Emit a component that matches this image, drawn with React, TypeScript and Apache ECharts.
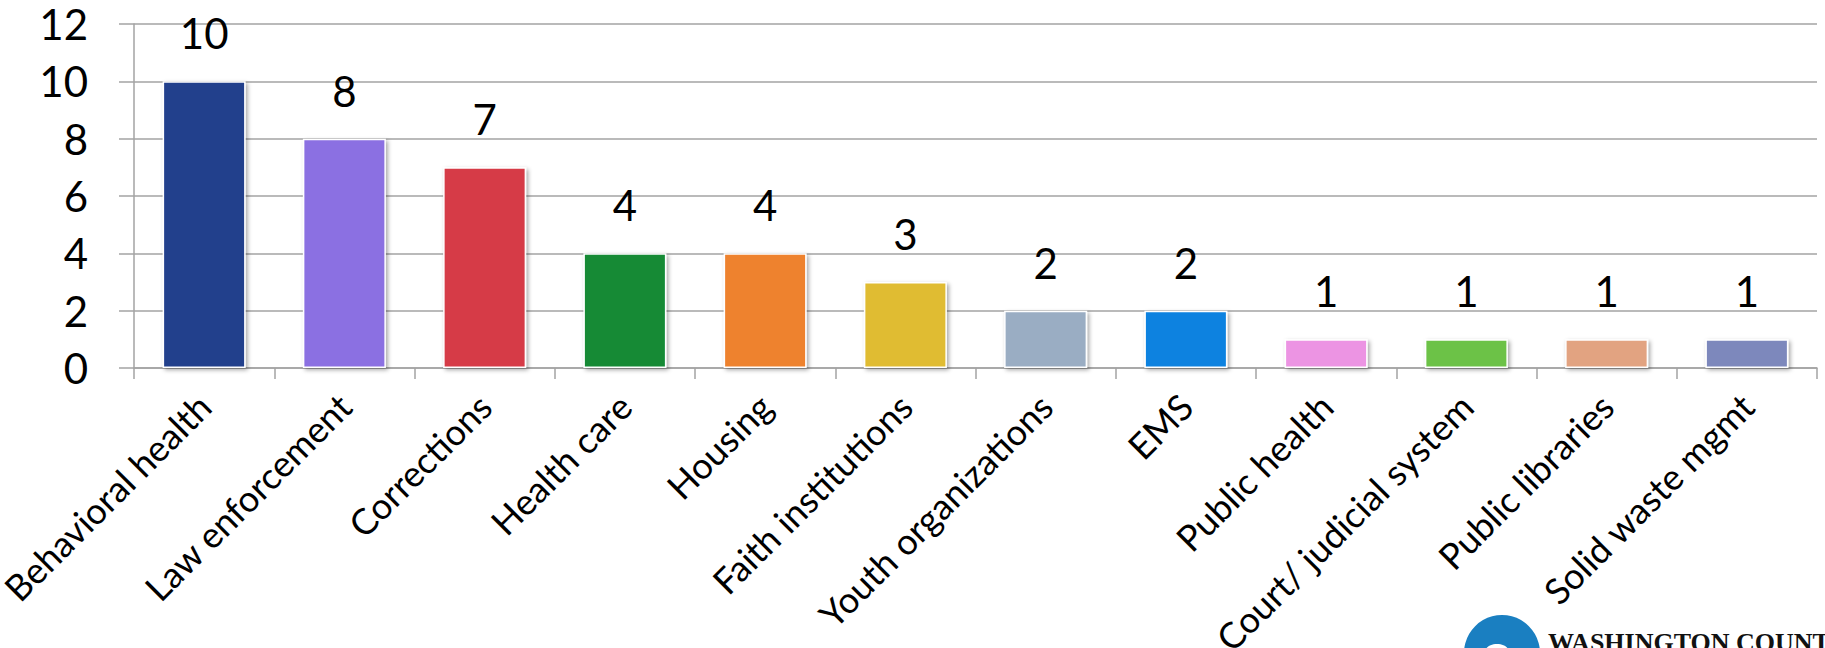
import React, { useEffect, useRef } from "react";
import * as echarts from "echarts";

// Partner sectors and how many respondents named each one
const categories = [
  "Behavioral health",
  "Law enforcement",
  "Corrections",
  "Health care",
  "Housing",
  "Faith institutions",
  "Youth organizations",
  "EMS",
  "Public health",
  "Court/ judicial system",
  "Public libraries",
  "Solid waste mgmt",
];
const counts = [10, 8, 7, 4, 4, 3, 2, 2, 1, 1, 1, 1];
const barColors = [
  "#213F8C",
  "#8B6FE2",
  "#D63B46",
  "#128A36",
  "#EE822E",
  "#E0BC33",
  "#9AADC3",
  "#0D82E0",
  "#EC94E3",
  "#6CC247",
  "#E2A381",
  "#7D88BC",
];
const yTicks = [0, 2, 4, 6, 8, 10, 12];

const FONT = "Lato, 'Open Sans', sans-serif";
const GRID_GREY = "#A3A3A3";

export default function App() {
  const ref = useRef<HTMLDivElement>(null);

  useEffect(() => {
    if (!ref.current) return;
    const chart = echarts.init(ref.current, undefined, { renderer: "svg" });
    chart.setOption({
      animation: false,
      backgroundColor: "#ffffff",
      textStyle: { fontFamily: FONT },
      grid: {
        left: 134,
        right: 8,
        top: 24,
        bottom: 280,
        containLabel: false,
        outerBoundsMode: "none",
      },
      xAxis: {
        type: "category",
        data: categories,
        boundaryGap: true,
        axisLine: { show: true, lineStyle: { color: GRID_GREY, width: 1.5 } },
        axisTick: { show: true, length: 11, lineStyle: { color: GRID_GREY, width: 1.5 } },
        axisLabel: {
          interval: 0,
          rotate: 45,
          margin: 32,
          color: "#000",
          fontSize: 36,
          fontFamily: FONT,
        },
      },
      yAxis: {
        type: "value",
        min: yTicks[0],
        max: yTicks[yTicks.length - 1],
        interval: 2,
        axisLine: { show: true, lineStyle: { color: GRID_GREY, width: 1.5 } },
        axisTick: { show: true, length: 15, lineStyle: { color: GRID_GREY, width: 1.5 } },
        splitLine: { show: true, lineStyle: { color: GRID_GREY, width: 1.5 } },
        axisLabel: {
          margin: 46,
          color: "#000",
          fontSize: 42,
          fontFamily: FONT,
        },
      },
      series: [
        {
          type: "bar",
          barWidth: 83,
          data: counts.map((v, i) => ({
            value: v,
            itemStyle: { color: barColors[i] },
          })),
          itemStyle: {
            borderColor: "#ffffff",
            borderWidth: 1.5,
            shadowBlur: 4,
            shadowColor: "rgba(0,0,0,0.35)",
            shadowOffsetX: 2,
            shadowOffsetY: 2,
          },
          label: {
            show: true,
            position: "top",
            distance: 27,
            color: "#000",
            fontSize: 42,
            lineHeight: 42,
            fontFamily: FONT,
          },
        },
      ],
      graphic: [
        {
          type: "circle",
          shape: { cx: 1502, cy: 653, r: 38 },
          style: { fill: "#1A7FC1" },
          silent: true,
        },
        {
          type: "ellipse",
          shape: { cx: 1497, cy: 650, rx: 11, ry: 6 },
          style: { fill: "#ffffff" },
          silent: true,
        },
        {
          type: "text",
          left: 1548,
          top: 629,
          style: {
            text: "WASHINGTON COUNTY",
            fill: "#111",
            font: "bold 26px 'Liberation Serif', serif",
          },
          silent: true,
        },
      ],
    });
    return () => chart.dispose();
  }, []);

  return (
    <div
      ref={ref}
      style={{ position: "absolute", left: 0, top: 0, width: 1825, height: 648 }}
    />
  );
}
